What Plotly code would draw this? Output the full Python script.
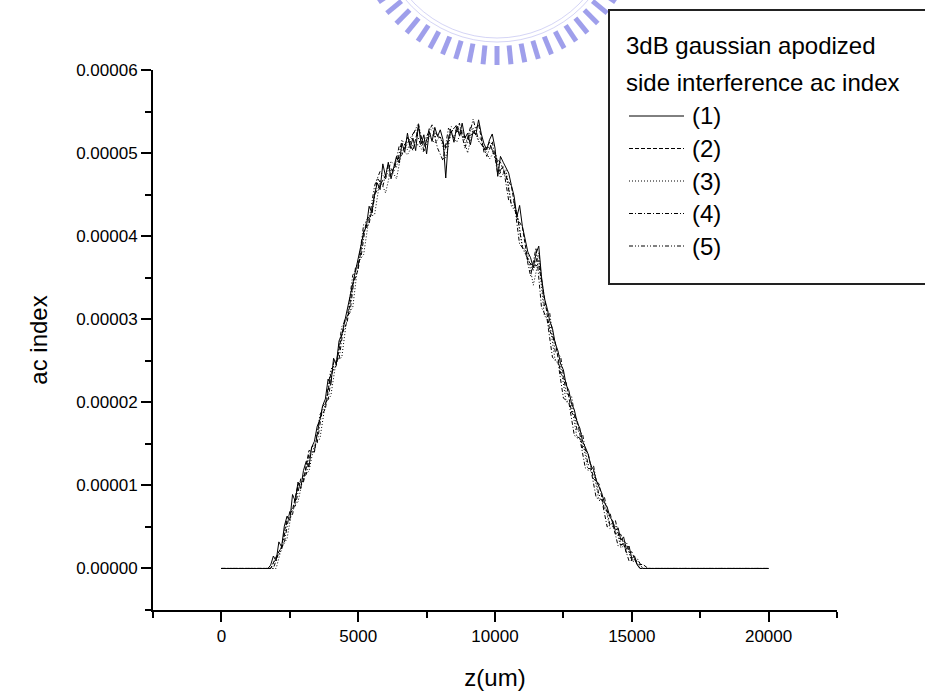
import math
import plotly.graph_objects as go

# ---------------- data (ac index in units of 1e-6) ----------------
z_end = [0, 20000]            # flat zero segments at the ends

s1_start, s1_step = 1700, 100
ac1_e6 = [0.0, 0.4, 1.5, 0.9, 3.2, 2.6, 5.1, 6.3, 5.8, 8.9, 8.1, 10.4, 9.6, 11.8, 12.9, 12.2,
          14.6, 15.3, 17.1, 17.9, 19.6, 20.4, 22.8, 22.1, 25.3, 24.6, 27.4, 28.1, 29.6, 31.2,
          32.8, 34.1, 35.9, 37.3, 38.6, 40.4, 41.2, 43.6, 42.8, 45.1, 46.4, 45.6, 48.7, 47.2,
          48.9, 46.9, 48.3, 49.6, 48.8, 51.2, 50.1, 52.4, 50.6, 51.8, 50.3, 53.4, 51.1, 52.2,
          49.9, 52.6, 51.4, 53.1, 52.0, 52.8, 51.6, 47.0, 51.9, 52.7, 51.3, 53.2, 52.1, 53.6,
          51.8, 52.4, 51.0, 52.6, 52.2, 54.0, 52.3, 51.1, 50.4, 51.6, 52.3, 50.6, 47.2, 49.6,
          48.9, 48.3, 47.6, 46.1, 44.8, 42.3, 43.7, 41.2, 39.6, 38.1, 37.4, 36.2, 37.9, 38.8,
          35.1, 32.6, 31.4, 29.8, 28.9, 27.1, 26.2, 24.6, 23.9, 22.1, 21.4, 19.8, 19.1, 17.6,
          16.9, 15.3, 14.6, 13.8, 12.4, 11.9, 10.6, 9.8, 9.1, 7.9, 7.4, 6.2, 5.7, 4.6, 4.9,
          3.4, 3.8, 2.3, 2.7, 1.2, 1.5, 0.4, 0.0, 0.0]

s2_start, s2_step = 1800, 200
ac2_e6 = [0.0, 1.4, 2.6, 6.1, 7.0, 10.1, 10.6, 14.2, 14.0, 18.1, 19.2, 23.5, 24.4, 28.2, 29.7,
          34.1, 36.0, 40.6, 41.5, 45.0, 46.2, 47.3, 47.4, 49.1, 49.8, 51.9, 50.3, 53.1, 50.8,
          52.4, 52.0, 51.9, 50.6, 52.5, 53.4, 51.9, 52.0, 52.3, 53.5, 50.1, 51.3, 49.4, 48.9,
          47.1, 46.0, 42.2, 41.1, 37.0, 36.4, 36.5, 32.8, 28.6, 27.3, 23.5, 22.4, 18.8, 17.9,
          14.5, 13.9, 10.8, 10.2, 7.1, 6.7, 4.2, 4.1, 1.9, 2.0, 0.4, 0.5, 0.0]

s3_start, s3_step = 2000, 200
ac3_e6 = [0.0, 2.5, 3.6, 7.5, 8.0, 11.2, 11.7, 15.0, 15.6, 19.9, 20.8, 25.1, 25.4, 30.5, 31.4,
          36.9, 37.8, 42.3, 42.6, 46.8, 45.2, 48.1, 46.9, 50.4, 49.8, 51.0, 51.0, 50.1, 52.0,
          51.2, 52.0, 49.4, 52.5, 51.3, 52.7, 50.0, 53.0, 51.4, 50.7, 49.3, 50.3, 47.0, 48.0,
          43.9, 43.0, 38.8, 37.8, 34.1, 37.2, 30.5, 29.5, 25.0, 24.4, 20.1, 19.6, 15.7, 15.4,
          11.8, 11.7, 8.2, 8.1, 4.8, 5.3, 2.5, 2.9, 0.8, 1.0, 0.0, 0.0]

s4_start, s4_step = 1900, 200
ac4_e6 = [0.0, 2.0, 3.1, 6.9, 7.5, 10.8, 11.3, 14.6, 15.1, 19.5, 20.3, 24.8, 25.2, 29.9, 30.8,
          36.2, 37.4, 42.0, 42.6, 47.0, 46.0, 48.6, 47.7, 50.9, 50.5, 51.8, 52.8, 50.8, 52.0,
          53.4, 50.6, 49.1, 53.0, 51.8, 53.6, 50.6, 53.1, 52.2, 51.6, 49.6, 51.4, 47.5, 48.4,
          44.3, 44.1, 39.0, 38.3, 35.2, 38.6, 31.4, 30.1, 25.4, 24.9, 20.5, 20.0, 16.0, 15.7,
          12.1, 12.0, 8.5, 8.3, 5.0, 5.5, 2.7, 3.0, 0.9, 1.1, 0.0, 0.0, 0.0]

s5_start, s5_step = 1800, 200
ac5_e6 = [0.0, 1.2, 2.2, 5.7, 6.5, 9.9, 10.4, 13.8, 14.1, 18.5, 19.6, 24.0, 24.6, 29.1, 30.2,
          35.3, 36.4, 41.4, 42.0, 46.1, 47.8, 46.9, 49.0, 48.3, 51.6, 50.4, 52.2, 53.6, 50.2,
          53.0, 52.4, 51.9, 50.5, 53.2, 52.6, 52.7, 51.2, 54.1, 51.5, 50.6, 50.7, 50.1, 47.6,
          47.6, 43.6, 42.8, 38.6, 37.3, 35.9, 38.0, 31.7, 30.7, 26.1, 25.5, 21.1, 20.7, 16.6,
          16.2, 12.5, 12.4, 8.8, 8.6, 5.2, 5.8, 2.8, 3.2, 1.0, 1.2, 0.0, 0.0]

labels = ["(1)", "(2)", "(3)", "(4)", "(5)"]
legend_title = ["3dB gaussian apodized", "side interference ac index"]
x_ticks = [0, 5000, 10000, 15000, 20000]
y_ticks = [0.0, 0.00001, 0.00002, 0.00003, 0.00004, 0.00005, 0.00006]

series = [(s1_start, s1_step, ac1_e6), (s2_start, s2_step, ac2_e6), (s3_start, s3_step, ac3_e6),
          (s4_start, s4_step, ac4_e6), (s5_start, s5_step, ac5_e6)]
dashes = ["solid", "4px,2px", "1px,2px", "4px,2px,1px,2px", "4px,2px,1px,2px,1px,2px"]

# ---------------- figure ----------------
W, H = 925, 697
ML, MR, MT, MB = 153, 88, 70, 87
PW, PH = W - ML - MR, H - MT - MB

def px(xp):
    return (xp - ML) / PW

def py(yp):
    return (H - MB - yp) / PH

fig = go.Figure()

# faint watermark seal (decoration, partly cut off at the top of the page)
wm_cx, wm_cy, wm_r = 497, -78, 143
wm_col = "rgba(135,135,230,0.8)"
for k in range(-17, 18):
    a = math.radians(90 + k * 5.6)
    x0, y0 = wm_cx + (wm_r - 19) * math.cos(a), wm_cy + (wm_r - 19) * math.sin(a)
    x1, y1 = wm_cx + wm_r * math.cos(a), wm_cy + wm_r * math.sin(a)
    fig.add_shape(type="line", xref="paper", yref="paper", x0=px(x0), y0=py(y0),
                  x1=px(x1), y1=py(y1), line=dict(color=wm_col, width=5), layer="below")
for rr in (wm_r - 23, wm_r - 27):
    fig.add_shape(type="circle", xref="paper", yref="paper",
                  x0=px(wm_cx - rr), x1=px(wm_cx + rr), y0=py(wm_cy + rr), y1=py(wm_cy - rr),
                  line=dict(color="rgba(170,170,235,0.5)", width=1), layer="below")

for (st, sp, vals), dash, lab in zip(series, dashes, labels):
    zs = [z_end[0]] + [st + i * sp for i in range(len(vals))] + [z_end[1]]
    ys = [0.0] + [v * 1e-6 for v in vals] + [0.0]
    fig.add_trace(go.Scatter(x=zs, y=ys, mode="lines", name=lab,
                             line=dict(color="black", width=1, dash=dash),
                             showlegend=False))

font = dict(family="Liberation Sans, Arial, sans-serif", color="black")

fig.update_layout(
    width=W, height=H,
    margin=dict(l=ML, r=MR, t=MT, b=MB, pad=0),
    paper_bgcolor="white", plot_bgcolor="white",
    font=dict(**font, size=17),
    xaxis=dict(range=[-2500, 22500], tickvals=x_ticks, ticktext=[str(v) for v in x_ticks],
               showgrid=False, zeroline=False, showline=True, linecolor="black", linewidth=2,
               ticks="outside", ticklen=10, tickwidth=2, tickcolor="black", automargin=False,
               minor=dict(dtick=2500, tick0=0, ticks="outside", ticklen=6, tickwidth=2,
                          tickcolor="black", showgrid=False),
               title=dict(text="z(um)", font=dict(size=24), standoff=24)),
    yaxis=dict(range=[-0.000005, 0.00006], tickvals=y_ticks,
               ticktext=["%.5f" % v for v in y_ticks], automargin=False,
               showgrid=False, zeroline=False, showline=True, linecolor="black", linewidth=2,
               ticks="outside", ticklen=10, tickwidth=2, tickcolor="black",
               minor=dict(dtick=0.000005, tick0=0, ticks="outside", ticklen=6, tickwidth=2,
                          tickcolor="black", showgrid=False),
               title=dict(text="ac index", font=dict(size=24), standoff=22)),
)

# ---------------- legend (drawn box, cut by the page edge) ----------------
box_l, box_t, box_b, box_r = 609, 10, 284, 960
fig.add_shape(type="rect", xref="paper", yref="paper",
              x0=px(box_l), x1=px(box_r), y0=py(box_b), y1=py(box_t),
              line=dict(color="#222", width=2), fillcolor="white", layer="above")
for i, t in enumerate(legend_title):
    fig.add_annotation(xref="paper", yref="paper", x=px(624), y=py(46 + 37 * i),
                       text=t, showarrow=False, xanchor="left", yanchor="middle",
                       font=dict(**font, size=24))
for i, (lab, dash) in enumerate(zip(labels, dashes)):
    yy = py(116 + 32.5 * i)
    fig.add_shape(type="line", xref="paper", yref="paper", x0=px(629), x1=px(684),
                  y0=yy, y1=yy, line=dict(color="black", width=1, dash=dash), layer="above")
    fig.add_annotation(xref="paper", yref="paper", x=px(690), y=yy, text=lab,
                       showarrow=False, xanchor="left", yanchor="middle",
                       font=dict(**font, size=24))

fig.write_html("out.html")
